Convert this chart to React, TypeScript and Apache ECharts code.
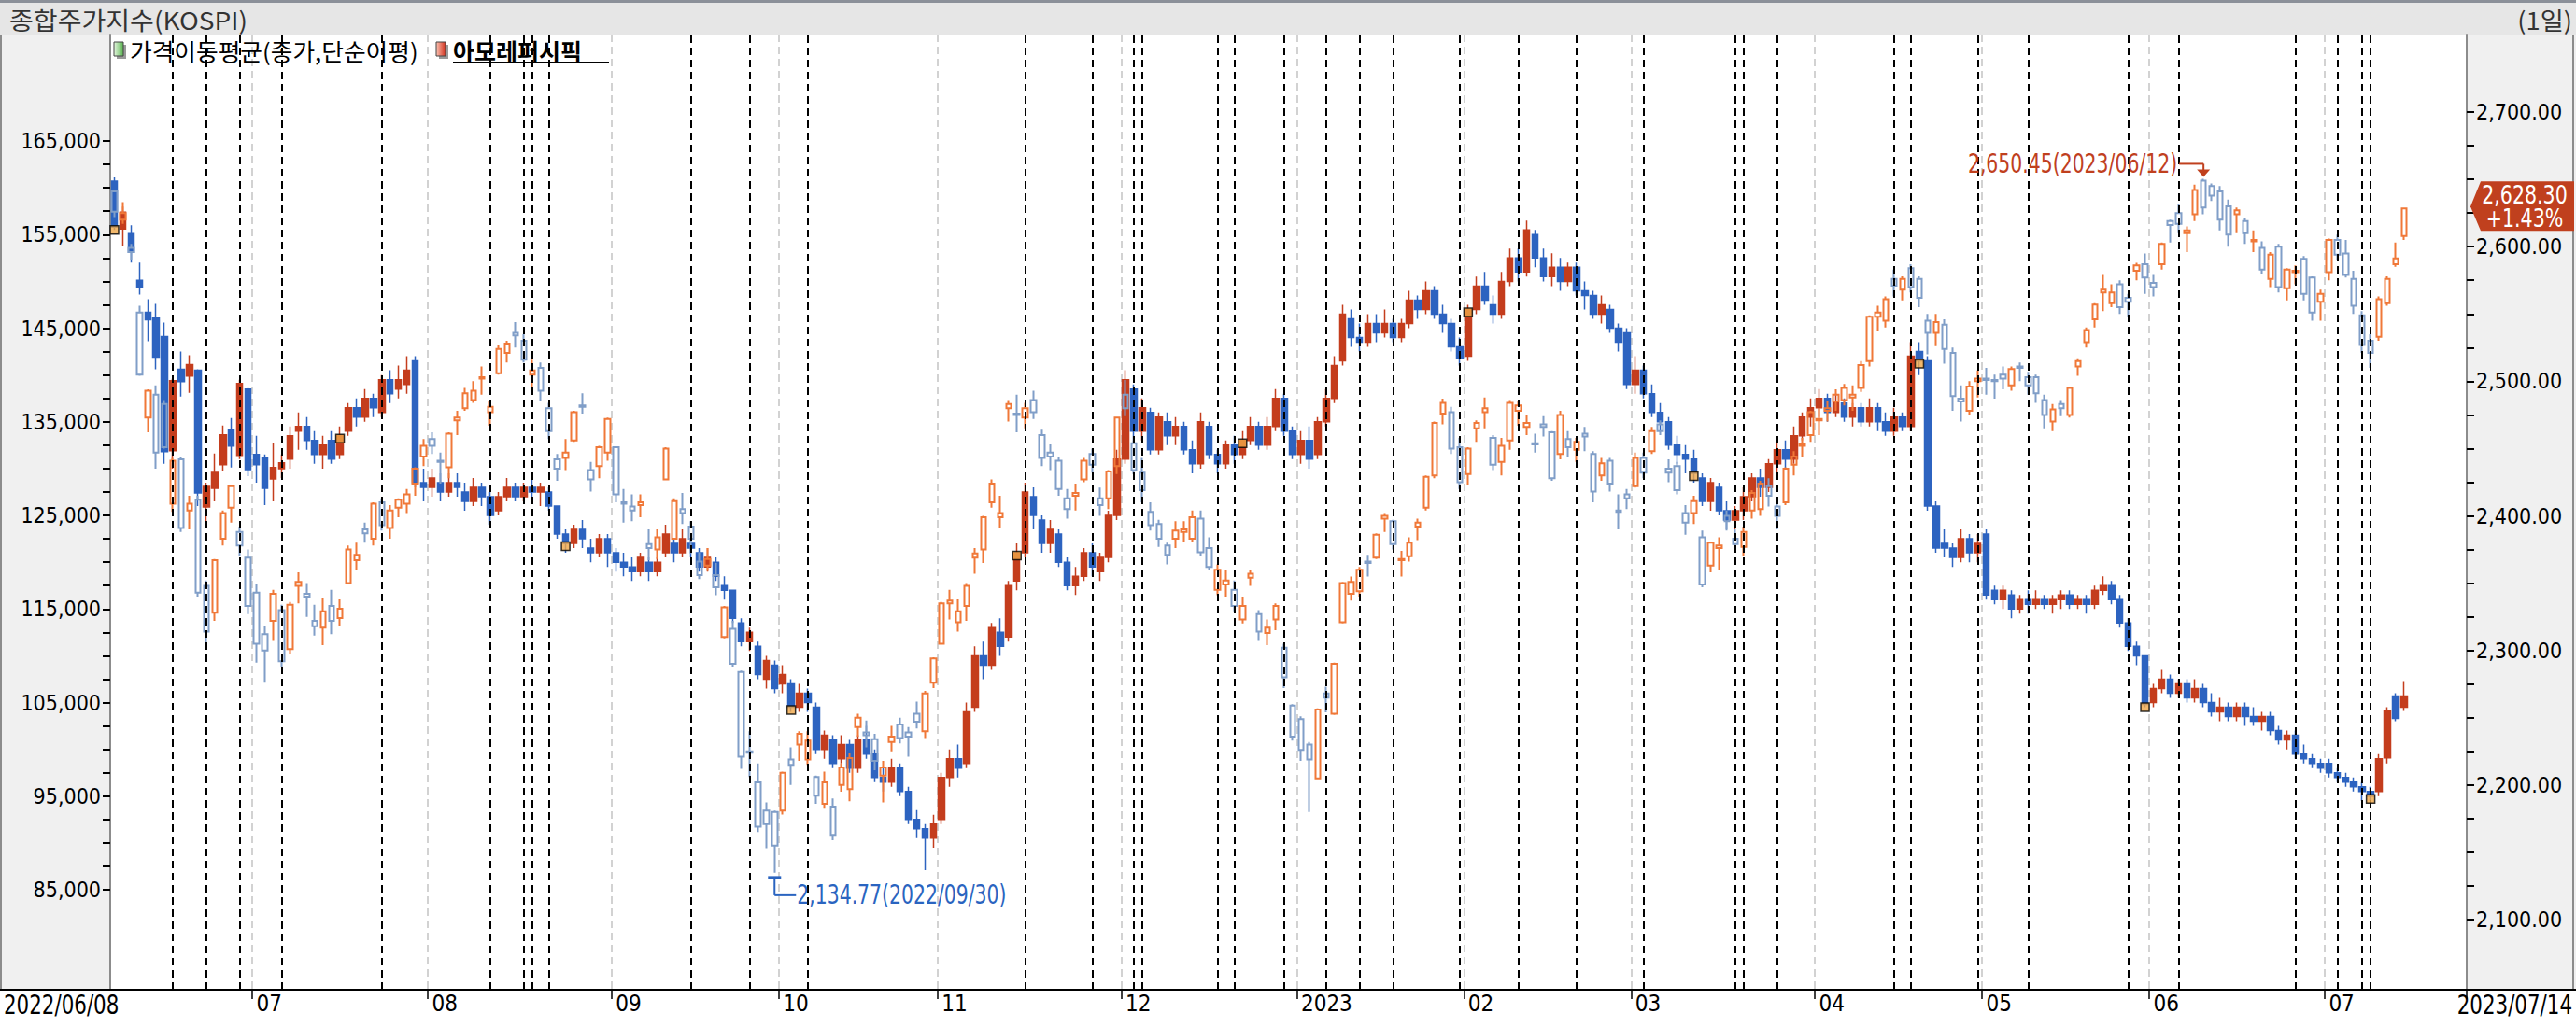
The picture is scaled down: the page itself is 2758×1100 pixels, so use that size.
import React, { useEffect, useRef } from "react";
import * as echarts from "echarts";

// ---------- calendar (KRX trading days) ----------
const FIRST_DAY = [2022, 6, 8];
const LAST_DAY = [2023, 7, 14];
const HOLIDAYS = [
  "2022/08/15", "2022/09/09", "2022/09/12", "2022/10/03", "2022/10/10", "2022/12/30",
  "2023/01/23", "2023/01/24", "2023/03/01", "2023/05/01", "2023/05/05", "2023/05/29", "2023/06/06",
];
const PAD_SLOTS = 7; // empty slots after the last day

// ---------- event lines (black dashed) ----------
const EVENT_DATES = [
  "2022/06/17", "2022/06/23", "2022/06/29", "2022/07/06", "2022/07/22", "2022/08/10", "2022/08/17",
  "2022/08/18", "2022/08/22", "2022/09/16", "2022/09/27", "2022/10/07", "2022/11/15", "2022/11/25",
  "2022/12/02", "2022/12/05", "2022/12/16", "2022/12/20", "2022/12/28", "2023/01/05", "2023/01/11",
  "2023/01/17", "2023/01/31", "2023/02/09", "2023/02/20", "2023/03/03", "2023/03/20", "2023/03/21",
  "2023/03/27", "2023/04/14", "2023/04/18", "2023/04/28", "2023/05/10", "2023/05/26", "2023/06/07",
  "2023/06/27", "2023/07/04", "2023/07/07", "2023/07/10",
];

// ---------- signal squares on 아모레퍼시픽 ----------
const MARKER_DATES = [
  "2022/06/08", "2022/07/15", "2022/08/24", "2022/10/05", "2022/11/14", "2022/12/21",
  "2023/02/01", "2023/03/13", "2023/04/19", "2023/05/31", "2023/07/10",
];

// ---------- KOSPI daily [open, close, low, high] ----------
const kospiJun22 = [
  [2641, 2626, 2622, 2641], [2620, 2625, 2617, 2633], [2599, 2596, 2590, 2602], [2551, 2505, 2504, 2556],
  [2473, 2493, 2462, 2494], [2490, 2447, 2435, 2497], [2483, 2451, 2450, 2486], [2409, 2441, 2403, 2443],
  [2442, 2391, 2388, 2444], [2404, 2409, 2390, 2415], [2412, 2343, 2340, 2415], [2348, 2314, 2306, 2352],
  [2328, 2367, 2322, 2368], [2383, 2402, 2378, 2404], [2406, 2422, 2395, 2423], [2388, 2378, 2370, 2392],
  [2369, 2333, 2327, 2375],
];
const kospiJul22 = [
  [2343, 2305, 2291, 2349], [2312, 2300, 2276, 2318], [2322, 2342, 2307, 2345], [2330, 2292, 2288, 2334],
  [2301, 2334, 2297, 2336], [2348, 2351, 2335, 2358], [2342, 2340, 2325, 2350], [2322, 2318, 2311, 2334],
  [2317, 2329, 2304, 2339], [2333, 2322, 2312, 2345], [2324, 2331, 2318, 2338], [2350, 2375, 2349, 2378],
  [2367, 2371, 2360, 2380], [2390, 2387, 2380, 2395], [2383, 2409, 2378, 2410], [2410, 2393, 2389, 2413],
  [2391, 2404, 2383, 2408], [2406, 2412, 2399, 2413], [2409, 2416, 2402, 2420], [2424, 2435, 2415, 2436],
  [2444, 2452, 2437, 2457],
];
const kospiAug22 = [
  [2457, 2452, 2446, 2462], [2441, 2440, 2424, 2447], [2436, 2461, 2428, 2462], [2471, 2473, 2460, 2478],
  [2480, 2491, 2478, 2495], [2486, 2493, 2484, 2500], [2502, 2503, 2490, 2511], [2477, 2481, 2467, 2485],
  [2506, 2524, 2505, 2527], [2521, 2528, 2514, 2530], [2536, 2534, 2525, 2544], [2530, 2516, 2514, 2535],
  [2505, 2508, 2496, 2516], [2510, 2493, 2485, 2514], [2480, 2463, 2457, 2484], [2442, 2435, 2426, 2446],
  [2443, 2447, 2434, 2457], [2456, 2477, 2455, 2478], [2482, 2481, 2476, 2491], [2434, 2427, 2418, 2440],
  [2437, 2451, 2428, 2452], [2447, 2472, 2441, 2473],
];
const kospiSep22 = [
  [2451, 2416, 2410, 2451], [2410, 2409, 2395, 2420], [2407, 2404, 2396, 2416], [2408, 2410, 2399, 2416],
  [2379, 2376, 2367, 2390], [2375, 2384, 2368, 2390], [2427, 2450, 2427, 2451], [2383, 2411, 2383, 2413],
  [2405, 2402, 2394, 2417], [2392, 2383, 2372, 2396], [2366, 2356, 2353, 2373], [2363, 2368, 2359, 2376],
  [2356, 2347, 2341, 2365], [2310, 2332, 2309, 2333], [2316, 2290, 2288, 2322], [2284, 2221, 2212, 2285],
  [2225, 2224, 2206, 2240], [2202, 2169, 2165, 2216], [2181, 2171, 2153, 2187], [2180, 2155, 2134.77, 2181],
];
const kospiOct22 = [
  [2181, 2209, 2178, 2210], [2219, 2215, 2200, 2228], [2230, 2238, 2218, 2240], [2219, 2233, 2215, 2240],
  [2206, 2192, 2186, 2207], [2186, 2202, 2183, 2210], [2184, 2163, 2159, 2190], [2200, 2213, 2195, 2216],
  [2197, 2220, 2188, 2224], [2243, 2250, 2236, 2253], [2239, 2237, 2228, 2248], [2234, 2218, 2211, 2238],
  [2207, 2213, 2187, 2218], [2232, 2236, 2225, 2244], [2245, 2235, 2231, 2250], [2239, 2236, 2221, 2243],
  [2253, 2247, 2242, 2262], [2240, 2268, 2235, 2270], [2276, 2294, 2272, 2295],
];
const kospiNov22 = [
  [2305, 2335, 2305, 2336], [2335, 2337, 2323, 2345], [2321, 2329, 2314, 2338], [2333, 2348, 2322, 2350],
  [2369, 2372, 2357, 2376], [2375, 2399, 2365, 2400], [2410, 2424, 2406, 2427], [2399, 2402, 2391, 2415],
  [2480, 2483, 2470, 2486], [2476, 2475, 2462, 2490], [2473, 2480, 2465, 2484], [2486, 2477, 2472, 2493],
  [2460, 2443, 2437, 2464], [2447, 2444, 2434, 2453], [2441, 2420, 2415, 2444], [2413, 2405, 2398, 2420],
  [2415, 2417, 2404, 2424], [2427, 2441, 2425, 2443], [2446, 2438, 2432, 2450], [2413, 2408, 2400, 2421],
  [2413, 2433, 2405, 2434], [2437, 2473, 2431, 2473],
];
const kospiDec22 = [
  [2490, 2480, 2474, 2501], [2454, 2434, 2431, 2456], [2432, 2419, 2410, 2443], [2403, 2393, 2389, 2410],
  [2394, 2383, 2377, 2397], [2378, 2371, 2364, 2380], [2383, 2389, 2376, 2396], [2388, 2390, 2381, 2396],
  [2383, 2399, 2381, 2404], [2398, 2373, 2370, 2404], [2376, 2362, 2360, 2384], [2345, 2360, 2341, 2364],
  [2349, 2352, 2340, 2360], [2345, 2333, 2329, 2352], [2323, 2333, 2320, 2340], [2354, 2357, 2348, 2360],
  [2327, 2314, 2307, 2330], [2313, 2317, 2304, 2323], [2323, 2333, 2315, 2335], [2302, 2280, 2272, 2305],
  [2259, 2236, 2233, 2260],
];
const kospiJan23 = [
  [2249, 2226, 2218, 2251], [2230, 2219, 2180, 2232], [2205, 2256, 2205, 2257], [2268, 2265, 2254, 2273],
  [2253, 2290, 2252, 2291], [2321, 2350, 2320, 2351], [2342, 2351, 2337, 2355], [2344, 2360, 2340, 2362],
  [2366, 2365, 2355, 2371], [2369, 2386, 2368, 2387], [2398, 2400, 2388, 2402], [2396, 2379, 2375, 2397],
  [2367, 2368, 2355, 2374], [2370, 2380, 2366, 2384], [2392, 2395, 2382, 2398], [2406, 2429, 2404, 2430],
  [2430, 2469, 2428, 2470], [2476, 2484, 2468, 2487], [2477, 2450, 2446, 2481], [2451, 2425, 2420, 2458],
];
const kospiFeb23 = [
  [2431, 2450, 2423, 2451], [2465, 2469, 2455, 2471], [2477, 2480, 2465, 2488], [2458, 2438, 2434, 2460],
  [2440, 2452, 2430, 2458], [2456, 2484, 2449, 2486], [2478, 2482, 2467, 2485], [2466, 2469, 2460, 2475],
  [2454, 2453, 2447, 2461], [2468, 2466, 2459, 2474], [2462, 2428, 2426, 2463], [2446, 2475, 2442, 2478],
  [2457, 2451, 2444, 2463], [2449, 2455, 2440, 2458], [2461, 2459, 2448, 2466], [2446, 2418, 2410, 2448],
  [2430, 2439, 2426, 2443], [2441, 2424, 2418, 2443], [2404, 2403, 2390, 2416], [2416, 2413, 2405, 2420],
];
const kospiMar23 = [
  [2422, 2443, 2421, 2447], [2443, 2432, 2428, 2447], [2448, 2463, 2446, 2466], [2468, 2463, 2460, 2471],
  [2435, 2432, 2425, 2442], [2437, 2419, 2416, 2440], [2402, 2395, 2386, 2408], [2402, 2411, 2394, 2415],
  [2384, 2349, 2347, 2389], [2363, 2380, 2358, 2381], [2376, 2378, 2360, 2384], [2400, 2396, 2389, 2404],
  [2383, 2379, 2373, 2390], [2377, 2388, 2370, 2392], [2404, 2417, 2398, 2419], [2405, 2424, 2400, 2426],
  [2422, 2415, 2407, 2428], [2407, 2400, 2390, 2412], [2410, 2435, 2408, 2436], [2438, 2444, 2430, 2448],
  [2452, 2453, 2444, 2458], [2460, 2477, 2455, 2478],
];
const kospiApr23 = [
  [2471, 2472, 2460, 2480], [2478, 2480, 2470, 2485], [2485, 2490, 2478, 2494], [2486, 2495, 2482, 2498],
  [2488, 2490, 2478, 2497], [2495, 2512, 2492, 2515], [2515, 2548, 2511, 2549], [2548, 2551, 2537, 2556],
  [2545, 2561, 2540, 2563], [2576, 2571, 2563, 2583], [2568, 2576, 2560, 2578], [2584, 2570, 2566, 2587],
  [2576, 2562, 2555, 2578], [2545, 2536, 2520, 2550], [2536, 2544, 2526, 2550], [2542, 2524, 2513, 2546],
  [2521, 2489, 2478, 2525], [2487, 2485, 2470, 2497], [2478, 2496, 2475, 2500], [2500, 2502, 2488, 2508],
];
const kospiMay23 = [
  [2502, 2501, 2490, 2510], [2501, 2500, 2487, 2505], [2505, 2502, 2494, 2511], [2497, 2509, 2493, 2511],
  [2511, 2510, 2500, 2514], [2503, 2497, 2490, 2507], [2503, 2491, 2484, 2505], [2486, 2475, 2465, 2490],
  [2470, 2479, 2463, 2483], [2483, 2480, 2474, 2486], [2475, 2495, 2473, 2496], [2511, 2515, 2504, 2517],
  [2529, 2538, 2525, 2540], [2546, 2557, 2540, 2558], [2566, 2568, 2552, 2579], [2558, 2566, 2555, 2572],
  [2572, 2555, 2550, 2575], [2562, 2559, 2548, 2565], [2582, 2586, 2575, 2588], [2587, 2577, 2565, 2595],
];
const kospiJun23 = [
  [2573, 2570, 2563, 2579], [2587, 2602, 2583, 2603], [2619, 2616, 2603, 2620], [2625, 2617, 2610, 2632],
  [2610, 2612, 2596, 2615], [2624, 2642, 2619, 2646], [2649, 2629, 2624, 2650.45], [2645, 2638, 2634, 2647],
  [2641, 2620, 2612, 2645], [2630, 2609, 2600, 2635], [2624, 2627, 2610, 2629], [2619, 2610, 2602, 2621],
  [2604, 2605, 2596, 2612], [2599, 2583, 2580, 2604], [2576, 2594, 2570, 2596], [2600, 2570, 2566, 2602],
  [2569, 2583, 2560, 2584], [2581, 2582, 2572, 2586], [2591, 2565, 2560, 2593], [2577, 2551, 2545, 2578],
  [2559, 2565, 2545, 2568],
];
const kospiJul23 = [
  [2581, 2605, 2575, 2606], [2605, 2594, 2590, 2609], [2595, 2579, 2577, 2605], [2576, 2556, 2550, 2582],
  [2549, 2527, 2521, 2552], [2530, 2521, 2510, 2535], [2533, 2561, 2530, 2563], [2558, 2576, 2556, 2578],
  [2587, 2591.26, 2585, 2603], [2608, 2628.3, 2605, 2629],
];

// ---------- 아모레퍼시픽 daily [open, close, low, high] in 천원 ----------
const apJun22 = [
  [160.7, 155.8, 155.5, 161.1], [155.6, 157.4, 153.8, 158.0], [155.1, 153.1, 152.0, 156.0], [150.1, 149.4, 148.6, 152.0],
  [146.7, 145.9, 143.6, 148.1], [146.1, 141.9, 140.6, 147.6], [144.1, 131.8, 130.5, 145.6], [131.9, 139.4, 130.0, 139.6],
  [140.6, 139.3, 137.7, 142.5], [139.9, 141.1, 138.1, 142.1], [140.5, 127.4, 126.0, 140.6], [125.9, 128.1, 124.0, 128.5],
  [127.9, 129.6, 126.5, 131.6], [130.4, 133.6, 129.7, 134.6], [134.1, 132.4, 130.1, 135.4], [131.4, 139.1, 131.0, 139.5],
  [138.5, 129.9, 129.2, 138.6],
];
const apJul22 = [
  [131.5, 130.4, 128.5, 133.5], [131.1, 127.9, 126.1, 131.5], [128.9, 130.1, 126.5, 132.7], [130.0, 130.6, 129.0, 131.5],
  [131.0, 133.5, 130.0, 134.5], [134.0, 134.5, 132.0, 136.0], [134.5, 133.0, 132.0, 135.5], [133.0, 131.5, 130.5, 134.0],
  [131.5, 132.5, 130.0, 133.5], [133.0, 131.0, 130.5, 134.0], [131.5, 133.5, 131.0, 134.5], [134.0, 136.5, 133.5, 137.0],
  [136.5, 135.5, 134.5, 137.5], [135.5, 137.5, 135.0, 138.5], [137.5, 136.5, 135.5, 138.0], [136.0, 139.5, 135.5, 140.0],
  [139.5, 138.0, 137.0, 140.5], [138.5, 139.5, 137.5, 141.0], [139.0, 140.5, 138.0, 142.0], [141.5, 128.5, 128.0, 142.0],
  [128.5, 128.0, 126.5, 130.0],
];
const apAug22 = [
  [128.0, 129.0, 127.0, 130.0], [128.5, 127.5, 126.5, 129.5], [127.5, 128.5, 127.0, 129.5], [128.5, 128.0, 127.0, 129.5],
  [127.5, 126.5, 125.5, 128.5], [126.5, 128.0, 126.0, 129.0], [128.0, 127.0, 126.0, 128.5], [127.0, 125.0, 124.0, 127.5],
  [125.5, 127.0, 125.0, 127.5], [127.0, 128.0, 126.5, 129.0], [128.0, 127.0, 126.5, 128.5], [127.0, 128.0, 126.5, 128.5],
  [128.0, 127.5, 127.0, 129.0], [127.5, 128.0, 126.0, 128.5], [127.5, 126.0, 125.5, 128.0], [126.0, 123.0, 122.5, 126.0],
  [123.0, 122.0, 121.0, 123.5], [122.0, 123.5, 121.5, 124.0], [123.5, 122.5, 121.5, 124.5], [121.5, 121.0, 120.0, 122.5],
  [121.0, 122.5, 120.5, 123.0], [122.5, 121.0, 119.5, 123.0],
];
const apSep22 = [
  [121.0, 120.0, 119.0, 121.5], [120.0, 119.5, 118.5, 121.0], [119.5, 119.0, 118.0, 120.5], [119.0, 120.5, 118.5, 121.0],
  [120.0, 119.0, 118.0, 120.5], [119.0, 120.0, 118.5, 120.5], [121.0, 123.0, 120.5, 124.0], [122.0, 121.0, 120.0, 122.5],
  [121.0, 122.5, 120.5, 123.5], [122.0, 121.5, 120.5, 122.5], [121.0, 119.5, 119.0, 121.5], [119.5, 120.5, 119.0, 121.5],
  [120.0, 118.5, 118.0, 120.5], [117.5, 117.0, 116.0, 118.5], [117.0, 114.0, 113.5, 117.0], [113.5, 111.5, 111.0, 114.0],
  [111.5, 112.5, 110.5, 113.0], [111.0, 108.0, 107.5, 111.5], [107.5, 109.5, 106.5, 110.0], [109.0, 106.5, 106.0, 109.5],
];
const apOct22 = [
  [107.0, 108.0, 106.0, 109.0], [107.0, 104.5, 104.0, 107.5], [104.5, 106.0, 104.0, 107.0], [106.0, 105.0, 104.0, 106.5],
  [104.5, 100.0, 99.5, 105.0], [100.0, 101.5, 99.0, 102.0], [101.0, 98.5, 98.0, 101.5], [99.0, 100.5, 98.5, 101.5],
  [100.5, 98.0, 97.5, 101.0], [98.0, 101.0, 97.5, 101.5], [101.0, 99.5, 99.0, 102.5], [99.5, 97.0, 96.5, 100.0],
  [97.0, 96.5, 95.5, 98.0], [96.5, 98.0, 96.0, 99.0], [98.0, 95.5, 95.0, 98.5], [95.5, 92.5, 92.0, 96.0],
  [92.5, 91.5, 90.5, 93.5], [91.5, 90.5, 87.1, 92.0], [90.5, 92.0, 89.5, 93.0],
];
const apNov22 = [
  [92.5, 97.0, 92.0, 97.5], [97.0, 99.0, 96.0, 100.0], [99.0, 98.0, 97.0, 100.5], [98.5, 104.0, 98.0, 105.0],
  [104.5, 110.0, 104.0, 111.0], [110.0, 109.0, 107.5, 111.5], [109.0, 113.0, 108.5, 113.5], [112.5, 111.0, 110.0, 114.0],
  [112.0, 117.5, 111.5, 118.0], [118.0, 121.0, 117.0, 122.0], [121.0, 127.5, 120.5, 128.5], [127.0, 125.0, 123.5, 128.0],
  [124.5, 122.0, 121.0, 125.0], [122.0, 123.5, 121.0, 124.5], [123.0, 120.0, 119.5, 123.5], [120.0, 117.5, 117.0, 120.5],
  [117.5, 118.5, 116.5, 119.5], [118.5, 121.0, 118.0, 121.5], [121.0, 119.5, 118.5, 122.0], [119.0, 120.5, 118.0, 121.0],
  [120.5, 125.0, 120.0, 125.5], [125.0, 131.0, 124.5, 132.0],
];
const apDec22 = [
  [131.0, 139.5, 130.5, 140.5], [138.5, 134.0, 133.0, 139.0], [134.0, 136.5, 133.0, 137.5], [136.0, 132.0, 131.5, 136.5],
  [132.0, 135.5, 131.5, 136.0], [135.0, 133.5, 132.5, 136.0], [133.5, 134.5, 132.5, 135.5], [134.5, 132.0, 131.5, 135.0],
  [132.0, 130.5, 129.5, 133.0], [130.5, 135.0, 130.0, 136.0], [134.5, 131.5, 131.0, 135.0], [131.5, 130.5, 129.5, 132.0],
  [130.5, 132.5, 130.0, 133.0], [132.5, 131.5, 130.5, 133.5], [131.5, 133.0, 131.0, 134.0], [133.0, 134.5, 132.5, 135.5],
  [134.5, 132.5, 132.0, 135.0], [132.5, 134.5, 132.0, 135.5], [134.5, 137.5, 134.0, 138.5], [137.5, 134.0, 133.5, 138.0],
  [134.0, 131.5, 131.0, 134.5],
];
const apJan23 = [
  [131.5, 133.0, 130.5, 134.0], [133.0, 131.0, 130.0, 134.5], [131.5, 135.0, 131.0, 135.5], [135.0, 137.5, 134.5, 138.5],
  [137.5, 141.0, 137.0, 142.0], [141.5, 146.5, 141.0, 147.5], [146.0, 144.0, 143.0, 147.0], [144.0, 143.5, 142.5, 145.5],
  [143.5, 145.5, 143.0, 146.5], [145.5, 144.5, 143.5, 146.5], [144.5, 145.5, 144.0, 147.0], [145.5, 144.0, 143.5, 146.0],
  [144.0, 145.5, 143.5, 146.0], [145.5, 148.0, 145.0, 149.0], [148.0, 147.0, 146.0, 148.5], [147.0, 149.0, 146.5, 150.0],
  [149.0, 146.5, 146.0, 149.5], [146.5, 145.5, 144.5, 147.5], [145.5, 143.0, 142.5, 146.0], [143.0, 141.8, 141.0, 144.0],
];
const apFeb23 = [
  [142.0, 147.0, 141.5, 147.5], [147.0, 149.5, 146.5, 150.5], [149.5, 148.0, 147.5, 151.0], [147.5, 146.5, 145.5, 148.5],
  [146.5, 150.0, 146.0, 151.0], [150.0, 152.5, 149.5, 153.5], [152.5, 151.0, 150.0, 153.5], [151.0, 155.5, 150.5, 156.5],
  [155.0, 152.5, 151.5, 155.5], [152.5, 150.5, 150.0, 153.5], [150.5, 151.5, 149.5, 153.0], [151.5, 150.0, 149.0, 152.5],
  [150.0, 151.5, 149.5, 152.0], [151.5, 149.0, 148.5, 152.0], [149.0, 148.5, 147.0, 150.0], [148.5, 146.5, 146.0, 149.0],
  [146.5, 147.5, 145.5, 148.5], [147.0, 145.0, 144.5, 147.5], [145.0, 143.5, 142.5, 145.5], [144.5, 139.0, 138.5, 145.0],
];
const apMar23 = [
  [139.0, 140.5, 138.0, 142.0], [140.5, 138.0, 137.5, 141.0], [138.0, 136.0, 135.5, 139.0], [136.0, 135.0, 134.0, 137.0],
  [135.0, 132.5, 132.0, 135.5], [132.5, 131.5, 130.5, 133.5], [131.5, 131.0, 129.5, 132.5], [131.0, 129.5, 128.5, 132.0],
  [129.0, 126.5, 126.0, 129.5], [126.5, 128.5, 125.5, 129.0], [128.0, 125.5, 125.0, 128.5], [125.5, 124.5, 123.5, 126.5],
  [124.5, 125.5, 123.5, 126.0], [125.5, 127.0, 124.5, 128.0], [127.0, 129.0, 126.5, 129.5], [129.0, 128.0, 127.0, 130.0],
  [128.0, 130.5, 127.5, 131.0], [130.5, 132.0, 129.5, 133.0], [132.0, 131.0, 130.0, 133.0], [131.0, 133.5, 130.5, 134.5],
  [133.5, 135.5, 133.0, 136.0], [135.5, 136.5, 134.5, 137.5],
];
const apApr23 = [
  [136.5, 137.5, 135.5, 138.5], [137.5, 136.0, 135.0, 138.0], [136.0, 137.0, 135.5, 138.0], [137.0, 135.5, 135.0, 137.5],
  [135.5, 136.5, 134.5, 137.0], [136.5, 135.0, 134.5, 137.0], [135.0, 136.5, 134.5, 137.5], [136.5, 135.0, 134.0, 137.0],
  [135.0, 134.0, 133.5, 136.0], [134.0, 135.5, 133.5, 136.5], [135.5, 134.5, 134.0, 136.0], [134.5, 142.0, 134.0, 143.5],
  [142.5, 141.5, 140.0, 143.5], [141.5, 126.0, 125.5, 142.0], [126.0, 121.5, 121.0, 126.5], [122.0, 121.5, 120.5, 123.5],
  [121.5, 120.5, 119.5, 122.0], [120.5, 122.5, 120.0, 123.5], [122.5, 121.0, 120.0, 123.0], [121.0, 122.0, 120.0, 123.0],
];
const apMay23 = [
  [123.0, 116.5, 116.0, 123.5], [117.0, 116.0, 115.5, 117.5], [116.0, 117.0, 115.0, 117.5], [116.5, 115.0, 114.0, 117.0],
  [115.0, 116.0, 114.5, 116.5], [116.0, 115.5, 114.5, 117.0], [115.5, 116.0, 115.0, 117.0], [116.0, 115.5, 115.0, 116.5],
  [115.5, 116.0, 114.5, 116.5], [116.0, 116.5, 115.0, 117.0], [116.5, 115.5, 115.0, 117.0], [115.5, 116.0, 115.0, 116.5],
  [116.0, 115.5, 114.5, 116.5], [115.5, 117.0, 115.0, 117.5], [117.0, 117.5, 116.5, 118.5], [117.5, 116.0, 115.5, 118.0],
  [116.0, 113.5, 113.0, 116.5], [113.5, 111.0, 110.5, 114.0], [111.0, 110.0, 109.0, 111.5], [110.0, 104.8, 104.5, 110.0],
];
const apJun23 = [
  [105.0, 106.5, 104.5, 107.0], [106.5, 107.5, 106.0, 108.5], [107.5, 106.0, 105.5, 108.0], [106.0, 107.0, 105.5, 107.5],
  [107.0, 105.5, 105.0, 107.5], [105.5, 106.5, 105.0, 107.5], [106.5, 105.0, 104.5, 107.0], [105.0, 104.0, 103.5, 106.0],
  [104.0, 104.5, 103.0, 105.5], [104.5, 103.5, 103.0, 105.0], [103.5, 104.5, 103.0, 105.0], [104.5, 103.5, 102.5, 105.0],
  [103.5, 103.0, 102.5, 104.5], [103.0, 103.5, 102.0, 104.0], [103.5, 102.0, 101.5, 104.0], [102.0, 101.0, 100.5, 102.5],
  [101.0, 101.5, 100.0, 102.0], [101.5, 99.5, 99.0, 102.0], [99.5, 99.0, 98.5, 100.5], [99.0, 98.5, 98.0, 99.5],
  [98.5, 98.0, 97.5, 99.0],
];
const apJul23 = [
  [98.5, 97.5, 97.0, 99.0], [97.5, 97.0, 96.5, 98.0], [97.0, 96.5, 96.0, 97.5], [96.5, 96.0, 95.5, 97.0],
  [96.0, 95.5, 94.5, 96.5], [95.5, 95.0, 94.5, 96.0], [95.5, 99.0, 95.0, 99.5], [99.1, 104.1, 98.5, 104.5],
  [105.7, 103.3, 103.0, 106.0], [104.5, 105.7, 104.1, 107.3],
];

// ---------- texts ----------
const TITLE = "종합주가지수(KOSPI)";
const PERIOD = "(1일)";
const LEGEND_MA = "가격이동평균(종가,단순이평)";
const LEGEND_STOCK = "아모레퍼시픽";
const AP_LABEL_STEP = 10000;
const AP_LABEL_BASE = 5000;
const KOSPI_LABEL_STEP = 100;

// ---------- layout ----------
const W = 2758;
const H = 1100;
const PLOT_L = 118;
const PLOT_R = 2641;
const PLOT_T = 37;
const PLOT_B = 1060;
const NARROW = "'Liberation Sans Narrow','Arial Narrow','DejaVu Sans Condensed',sans-serif";
const KR = "'Noto Sans CJK KR','Noto Sans',sans-serif";
const C_UP = "#c43d1d";
const C_DN = "#2d63c0";
const C_KUP = "#f07838";
const C_KDN = "#809ec8";

const pad2 = (n: number) => (n < 10 ? "0" + n : "" + n);

function tradingDays(): string[] {
  const out: string[] = [];
  const d = new Date(Date.UTC(FIRST_DAY[0], FIRST_DAY[1] - 1, FIRST_DAY[2]));
  const end = Date.UTC(LAST_DAY[0], LAST_DAY[1] - 1, LAST_DAY[2]);
  while (d.getTime() <= end) {
    const wd = d.getUTCDay();
    const key = `${d.getUTCFullYear()}/${pad2(d.getUTCMonth() + 1)}/${pad2(d.getUTCDate())}`;
    if (wd !== 0 && wd !== 6 && HOLIDAYS.indexOf(key) < 0) out.push(key);
    d.setUTCDate(d.getUTCDate() + 1);
  }
  return out;
}

export default function App() {
  const ref = useRef<HTMLDivElement>(null);

  useEffect(() => {
    document.body.style.margin = "0";
    if (!ref.current) return;
    const chart = echarts.init(ref.current, undefined, { renderer: "svg" });

    const days = tradingDays();
    const cats = days.concat(Array.from({ length: PAD_SLOTS }, (_, k) => `pad${k}`));
    const kospi = [
      ...kospiJun22, ...kospiJul22, ...kospiAug22, ...kospiSep22, ...kospiOct22, ...kospiNov22, ...kospiDec22,
      ...kospiJan23, ...kospiFeb23, ...kospiMar23, ...kospiApr23, ...kospiMay23, ...kospiJun23, ...kospiJul23,
    ];
    const ap = [
      ...apJun22, ...apJul22, ...apAug22, ...apSep22, ...apOct22, ...apNov22, ...apDec22,
      ...apJan23, ...apFeb23, ...apMar23, ...apApr23, ...apMay23, ...apJun23, ...apJul23,
    ].map((r) => r.map((v) => Math.round(v * 1000)));

    const monthStart: boolean[] = cats.map((c, i) =>
      i > 0 && i < days.length && days[i].slice(5, 7) !== days[i - 1].slice(5, 7)
    );
    const isMonth = (index: number) => !!monthStart[index];
    const monthLabel = (value: string) => {
      if (!value || value.startsWith("pad")) return "";
      const m = value.slice(5, 7);
      return m === "01" ? value.slice(0, 4) : m;
    };

    const markerData = MARKER_DATES.map((d) => {
      const i = days.indexOf(d);
      return [d, ap[i][1]];
    });

    const option: any = {
      animation: false,
      backgroundColor: "#ffffff",
      grid: [
        { left: PLOT_L, right: W - PLOT_R, top: PLOT_T, bottom: H - PLOT_B },
        { left: PLOT_L, right: W - PLOT_R, top: 151, height: 802 },
        { left: PLOT_L, right: W - PLOT_R, top: 120, height: 865 },
      ],
      xAxis: [
        {
          gridIndex: 0,
          type: "category",
          data: cats,
          boundaryGap: true,
          axisLine: { show: false },
          axisTick: { show: true, interval: isMonth, length: 10, lineStyle: { color: "#000", width: 1.5 } },
          axisLabel: {
            show: true,
            interval: isMonth,
            formatter: monthLabel,
            align: "left",
            margin: 3,
            color: "#000",
            fontFamily: NARROW,
            fontSize: 24,
          },
          splitLine: { show: true, interval: isMonth, lineStyle: { color: "#d2d2d2", width: 2, type: [8, 5] } },
        },
        { gridIndex: 1, type: "category", data: cats, show: false },
        { gridIndex: 2, type: "category", data: cats, show: false },
      ],
      yAxis: [
        {
          gridIndex: 0, type: "value", min: 0, max: 1, position: "left",
          axisLine: { show: true, lineStyle: { color: "#8c8c8c", width: 2 } },
          axisTick: { show: false }, axisLabel: { show: false }, splitLine: { show: false },
        },
        {
          gridIndex: 0, type: "value", min: 0, max: 1, position: "right",
          axisLine: { show: true, lineStyle: { color: "#8c8c8c", width: 2 } },
          axisTick: { show: false }, axisLabel: { show: false }, splitLine: { show: false },
        },
        {
          gridIndex: 1, type: "value", min: 85000, max: 165000, interval: 2500, position: "left",
          axisLine: { show: false },
          axisTick: { show: true, length: 8, lineStyle: { color: "#000", width: 2 } },
          axisLabel: {
            margin: 10, color: "#000", fontFamily: NARROW, fontSize: 23,
            formatter: (v: number) => ((v - AP_LABEL_BASE) % AP_LABEL_STEP === 0 ? v.toLocaleString("en-US") : ""),
          },
          splitLine: { show: false },
        },
        {
          gridIndex: 2, type: "value", min: 2100, max: 2700, interval: 25, position: "right",
          axisLine: { show: false },
          axisTick: { show: true, length: 8, lineStyle: { color: "#000", width: 2 } },
          axisLabel: {
            margin: 10, color: "#000", fontFamily: NARROW, fontSize: 23,
            formatter: (v: number) =>
              v % KOSPI_LABEL_STEP === 0
                ? v.toLocaleString("en-US", { minimumFractionDigits: 2, maximumFractionDigits: 2 })
                : "",
          },
          splitLine: { show: false },
        },
      ],
      series: [
        {
          type: "line",
          xAxisIndex: 0,
          yAxisIndex: 0,
          data: cats.map(() => null),
          symbol: "none",
          silent: true,
          z: 1,
          markLine: {
            silent: true,
            symbol: ["none", "none"],
            label: { show: false },
            lineStyle: { color: "#000", width: 2, type: [8, 5] },
            data: EVENT_DATES.map((d) => ({ xAxis: d })),
          },
        },
        {
          type: "candlestick",
          name: LEGEND_STOCK,
          xAxisIndex: 1,
          yAxisIndex: 2,
          data: ap,
          barWidth: 7,
          z: 3,
          itemStyle: { color: C_UP, color0: C_DN, borderColor: C_UP, borderColor0: C_DN, borderWidth: 1.5 },
        },
        {
          type: "candlestick",
          name: TITLE,
          xAxisIndex: 2,
          yAxisIndex: 3,
          data: kospi,
          barWidth: 6,
          z: 4,
          itemStyle: {
            color: "rgba(255,255,255,0)",
            color0: "rgba(255,255,255,0)",
            borderColor: C_KUP,
            borderColor0: C_KDN,
            borderWidth: 2,
          },
        },
        {
          type: "scatter",
          xAxisIndex: 1,
          yAxisIndex: 2,
          data: markerData,
          symbol: "rect",
          symbolSize: 9,
          symbolOffset: [0, 3],
          z: 5,
          itemStyle: { color: "#f0a848", borderColor: "#000", borderWidth: 1.5 },
        },
      ],
    };
    chart.setOption(option);

    // ---------- annotations positioned through the chart's own scales ----------
    let hiIdx = 0, loIdx = 0;
    kospi.forEach((r, i) => {
      if (r[3] > kospi[hiIdx][3]) hiIdx = i;
      if (r[2] < kospi[loIdx][2]) loIdx = i;
    });
    const hiVal = kospi[hiIdx][3];
    const loVal = kospi[loIdx][2];
    const fmt2 = (v: number) => v.toLocaleString("en-US", { minimumFractionDigits: 2, maximumFractionDigits: 2 });
    const [hx, hy] = chart.convertToPixel({ seriesIndex: 2 }, [hiIdx, hiVal]) as number[];
    const [lx, ly] = chart.convertToPixel({ seriesIndex: 2 }, [loIdx, loVal]) as number[];
    const last = kospi[kospi.length - 1][1];
    const prev = kospi[kospi.length - 2][1];
    const chg = ((last - prev) / prev) * 100;
    const [, cy0] = chart.convertToPixel({ seriesIndex: 2 }, [kospi.length - 1, last]) as number[];
    const cy = cy0 - 2;

    // text element; sx condenses/stretches the glyphs horizontally around the anchor point
    const txt = (text: string, x: number, y: number, font: string, fill: string, align = "left", va = "middle", sx = 1) => ({
      type: "text",
      z: 20,
      x,
      y,
      scaleX: sx,
      style: { text, x: 0, y: 0, font, fill, align, verticalAlign: va, textAlign: align, textVerticalAlign: va },
    });
    const line = (x1: number, y1: number, x2: number, y2: number, stroke: string, lineWidth: number, z = 20) => ({
      type: "line",
      z,
      shape: { x1, y1, x2, y2 },
      style: { stroke, lineWidth },
    });
    const greenFill = new echarts.graphic.LinearGradient(0, 0, 1, 0, [
      { offset: 0, color: "#e6f8e0" },
      { offset: 1, color: "#5bb552" },
    ]);
    const redFill = new echarts.graphic.LinearGradient(0, 0, 1, 0, [
      { offset: 0, color: "#fbc4b4" },
      { offset: 1, color: "#d2301c" },
    ]);

    const elements: any[] = [
      // frame
      { type: "rect", z: -10, shape: { x: 0, y: 0, width: W, height: PLOT_T }, style: { fill: "#e6e6e6" } },
      { type: "rect", z: -9, shape: { x: 0, y: 0, width: W, height: 3 }, style: { fill: "#8b9099" } },
      { type: "rect", z: -10, shape: { x: 0, y: PLOT_T, width: PLOT_L, height: PLOT_B - PLOT_T }, style: { fill: "#f0f0f0" } },
      { type: "rect", z: -10, shape: { x: PLOT_R, y: PLOT_T, width: W - PLOT_R, height: PLOT_B - PLOT_T }, style: { fill: "#f0f0f0" } },
      line(1, PLOT_T, 1, PLOT_B, "#8c8c8c", 2, 10),
      line(W - 3, PLOT_T, W - 3, PLOT_B, "#8c8c8c", 2, 10),
      line(0, PLOT_B, W, PLOT_B, "#000", 2, 10),
      // title bar
      txt(TITLE, 10, 21, `26px ${KR}`, "#333", "left", "middle", 1.08),
      txt(PERIOD, W - 4, 21, `26px ${KR}`, "#333", "right", "middle", 1.05),
      // legend
      { type: "rect", z: 19, shape: { x: 125, y: 48, width: 10, height: 15 }, style: { fill: "#9a9a9a" } },
      { type: "rect", z: 20, shape: { x: 122, y: 45, width: 10, height: 15 }, style: { fill: greenFill, stroke: "#444", lineWidth: 1 } },
      txt(LEGEND_MA, 139, 54, `25px ${KR}`, "#000", "left", "middle", 1.03),
      { type: "rect", z: 19, shape: { x: 470, y: 48, width: 10, height: 15 }, style: { fill: "#9a9a9a" } },
      { type: "rect", z: 20, shape: { x: 467, y: 45, width: 10, height: 15 }, style: { fill: redFill, stroke: "#444", lineWidth: 1 } },
      txt(LEGEND_STOCK, 485, 54, `bold 25px ${KR}`, "#000"),
      line(485, 67, 652, 67, "#000", 2),
      // x-axis end dates
      txt(days[0], 4, PLOT_B + 2, `28px ${NARROW}`, "#000", "left", "top", 0.85),
      txt(days[days.length - 1], W - 4, PLOT_B + 2, `28px ${NARROW}`, "#000", "right", "top", 0.85),
      // high annotation
      txt(`${fmt2(hiVal)}(${days[hiIdx]})`, hx - 28, hy - 16, `28px ${NARROW}`, "#c0401e", "right", "middle", 0.81),
      line(hx - 26, hy - 16, hx, hy - 16, "#c0401e", 2),
      line(hx, hy - 16, hx, hy - 9, "#c0401e", 2),
      { type: "polygon", z: 20, shape: { points: [[hx - 7, hy - 10], [hx + 7, hy - 10], [hx, hy - 2]] }, style: { fill: "#c0401e" } },
      // low annotation
      line(lx - 7, ly + 5, lx + 7, ly + 5, "#2a64c0", 3),
      line(lx, ly + 5, lx, ly + 24, "#2a64c0", 2),
      line(lx, ly + 24, lx + 23, ly + 24, "#2a64c0", 2),
      txt(`${fmt2(loVal)}(${days[loIdx]})`, lx + 24, ly + 23, `28px ${NARROW}`, "#2a64c0", "left", "middle", 0.81),
      // last price tag
      {
        type: "polygon",
        z: 20,
        shape: { points: [[PLOT_R + 4, cy], [PLOT_R + 15, cy - 27], [W - 2, cy - 27], [W - 2, cy + 26], [PLOT_R + 15, cy + 26]] },
        style: { fill: "#c0401e" },
      },
      txt(fmt2(last), PLOT_R + 62, cy - 12, `26px ${NARROW}`, "#ffffff", "center", "middle", 0.88),
      txt(`${chg >= 0 ? "+" : ""}${chg.toFixed(2)}%`, PLOT_R + 62, cy + 13, `26px ${NARROW}`, "#ffffff", "center", "middle", 0.88),
    ];
    chart.setOption({ graphic: { elements } });

    return () => chart.dispose();
  }, []);

  return <div ref={ref} style={{ width: W, height: H }} />;
}
